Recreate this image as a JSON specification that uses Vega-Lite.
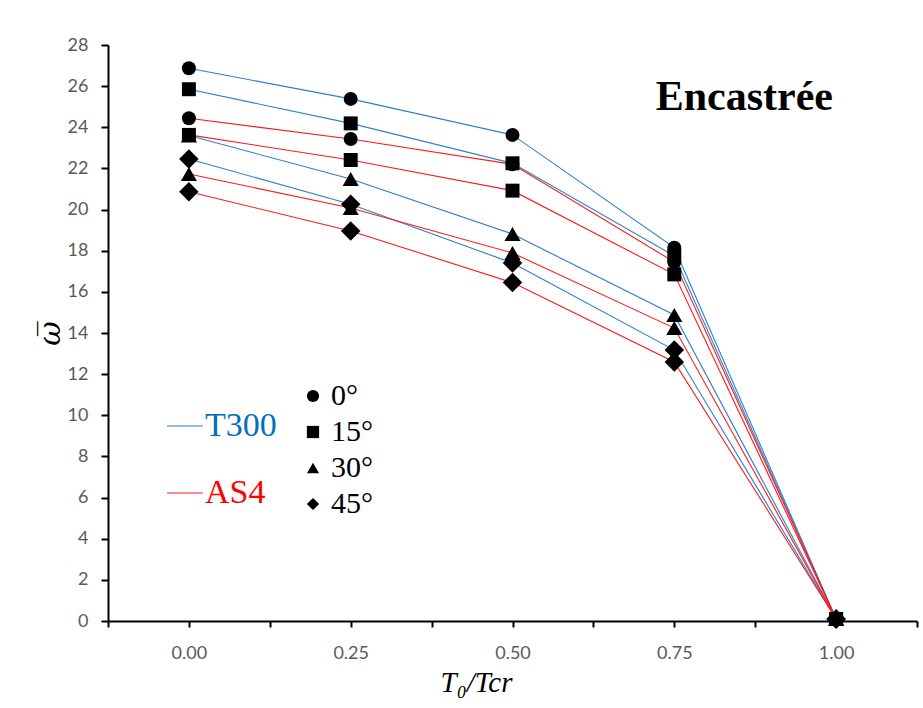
{
  "$schema": "https://vega.github.io/schema/vega-lite/v6.json",
  "width": 809,
  "height": 576,
  "autosize": {"type": "none"},
  "padding": {"left": 108, "top": 45, "right": 6, "bottom": 87},
  "background": "white",
  "config": {
    "view": {"stroke": null},
    "legend": {"labelFont": "Liberation Serif", "labelColor": "black", "padding": 0, "title": null}
  },
  "title": {"text": "Encastrée", "anchor": "end", "orient": "top", "font": "Liberation Serif", "fontSize": 42, "fontWeight": "bold", "color": "black", "offset": 0, "baseline": "alphabetic", "dy": 116, "dx": -85},
  "data": {"values": [
    {"series": "T300", "angle": "0°", "x": 0, "y": 26.87},
    {"series": "T300", "angle": "0°", "x": 0.25, "y": 25.38},
    {"series": "T300", "angle": "0°", "x": 0.5, "y": 23.63},
    {"series": "T300", "angle": "0°", "x": 0.75, "y": 18.15},
    {"series": "T300", "angle": "0°", "x": 1, "y": 0.1},
    {"series": "T300", "angle": "15°", "x": 0, "y": 25.85},
    {"series": "T300", "angle": "15°", "x": 0.25, "y": 24.19},
    {"series": "T300", "angle": "15°", "x": 0.5, "y": 22.25},
    {"series": "T300", "angle": "15°", "x": 0.75, "y": 17.75},
    {"series": "T300", "angle": "15°", "x": 1, "y": 0.1},
    {"series": "T300", "angle": "30°", "x": 0, "y": 23.6},
    {"series": "T300", "angle": "30°", "x": 0.25, "y": 21.49},
    {"series": "T300", "angle": "30°", "x": 0.5, "y": 18.81},
    {"series": "T300", "angle": "30°", "x": 0.75, "y": 14.88},
    {"series": "T300", "angle": "30°", "x": 1, "y": 0.1},
    {"series": "T300", "angle": "45°", "x": 0, "y": 22.46},
    {"series": "T300", "angle": "45°", "x": 0.25, "y": 20.26},
    {"series": "T300", "angle": "45°", "x": 0.5, "y": 17.4},
    {"series": "T300", "angle": "45°", "x": 0.75, "y": 13.17},
    {"series": "T300", "angle": "45°", "x": 1, "y": 0.1},
    {"series": "AS4", "angle": "0°", "x": 0, "y": 24.44},
    {"series": "AS4", "angle": "0°", "x": 0.25, "y": 23.43},
    {"series": "AS4", "angle": "0°", "x": 0.5, "y": 22.2},
    {"series": "AS4", "angle": "0°", "x": 0.75, "y": 17.45},
    {"series": "AS4", "angle": "0°", "x": 1, "y": 0.1},
    {"series": "AS4", "angle": "15°", "x": 0, "y": 23.63},
    {"series": "AS4", "angle": "15°", "x": 0.25, "y": 22.41},
    {"series": "AS4", "angle": "15°", "x": 0.5, "y": 20.92},
    {"series": "AS4", "angle": "15°", "x": 0.75, "y": 16.85},
    {"series": "AS4", "angle": "15°", "x": 1, "y": 0.1},
    {"series": "AS4", "angle": "30°", "x": 0, "y": 21.73},
    {"series": "AS4", "angle": "30°", "x": 0.25, "y": 20.08},
    {"series": "AS4", "angle": "30°", "x": 0.5, "y": 17.89},
    {"series": "AS4", "angle": "30°", "x": 0.75, "y": 14.24},
    {"series": "AS4", "angle": "30°", "x": 1, "y": 0.1},
    {"series": "AS4", "angle": "45°", "x": 0, "y": 20.87},
    {"series": "AS4", "angle": "45°", "x": 0.25, "y": 18.96},
    {"series": "AS4", "angle": "45°", "x": 0.5, "y": 16.45},
    {"series": "AS4", "angle": "45°", "x": 0.75, "y": 12.59},
    {"series": "AS4", "angle": "45°", "x": 1, "y": 0.1}
  ]},
  "encoding": {
    "x": {
      "field": "x", "type": "quantitative",
      "scale": {"domain": [-0.125, 1.125], "nice": false, "zero": false},
      "axis": {
        "values": [-0.125, 0, 0.125, 0.25, 0.375, 0.5, 0.625, 0.75, 0.875, 1, 1.125],
        "labelExpr": "datum.value >= 0 && datum.value <= 1 && (datum.value * 4) % 1 == 0 ? format(datum.value, '.2f') : ''",
        "grid": false, "domainColor": "black", "domainWidth": 2,
        "tickColor": "black", "tickWidth": 2, "tickSize": 6,
        "labelFont": "Lato", "labelFontSize": 18, "labelColor": "#595959",
        "labelPadding": 17, "labelFlush": false, "labelOverlap": false,
        "title": "T₀/Tcr", "titleFont": "Liberation Serif", "titleFontStyle": "italic",
        "titleFontWeight": "normal", "titleFontSize": 29, "titleColor": "black", "titlePadding": 6,
        "titleX": 368
      }
    },
    "y": {
      "field": "y", "type": "quantitative",
      "scale": {"domain": [0, 28], "nice": false},
      "axis": {
        "values": [0, 2, 4, 6, 8, 10, 12, 14, 16, 18, 20, 22, 24, 26, 28],
        "grid": false, "domainColor": "black", "domainWidth": 2,
        "tickColor": "black", "tickWidth": 2, "tickSize": 7,
        "labelFont": "Lato", "labelFontSize": 18, "labelColor": "#595959", "labelPadding": 13,
        "title": "ω̅", "titleFont": "DejaVu Serif", "titleFontStyle": "italic",
        "titleFontWeight": "normal", "titleFontSize": 30, "titleColor": "black", "titlePadding": 2
      }
    }
  },
  "layer": [
    {
      "mark": {"type": "line", "strokeWidth": 1.1},
      "encoding": {
        "color": {
          "field": "series", "type": "nominal",
          "scale": {"domain": ["T300", "AS4"], "range": ["#2A7FCF", "#FF1A1A"]},
          "legend": {
            "orient": "none", "legendX": 58, "legendY": 362, "title": null, "padding": 0,
            "symbolType": "stroke", "symbolStrokeWidth": 1.2, "symbolSize": 1300,
            "labelFont": "Liberation Serif", "labelFontSize": 34, "labelOffset": 1,
            "rowPadding": 31, "labelLimit": 300,
            "encode": {"labels": {"update": {"fill": {"signal": "datum.value === 'T300' ? '#0070C0' : '#FF0000'"}}}}
          }
        },
        "detail": {"field": "angle", "type": "nominal"}
      }
    },
    {
      "transform": [{"filter": "datum.angle === '0°' || datum.angle === '15°'"}],
      "mark": {"type": "point", "filled": true, "opacity": 1, "color": "black", "size": 195},
      "encoding": {
        "shape": {
          "field": "angle", "type": "nominal",
          "scale": {"domain": ["0°", "15°", "30°", "45°"], "range": ["circle", "square", "triangle-up", "diamond"]},
          "legend": {
            "orient": "none", "legendX": 190, "legendY": 336, "title": null, "padding": 0,
            "values": ["0°", "15°", "30°", "45°"],
            "symbolFillColor": "black", "symbolStrokeColor": "black", "symbolStrokeWidth": 0, "symbolSize": 150,
            "labelFont": "Liberation Serif", "labelFontSize": 30, "labelColor": "black",
            "labelOffset": 3, "rowPadding": 6
          }
        }
      }
    },
    {
      "transform": [{"filter": "datum.angle === '30°'"}],
      "mark": {"type": "point", "filled": true, "opacity": 1, "color": "black", "size": 260},
      "encoding": {
        "shape": {
          "field": "angle", "type": "nominal",
          "scale": {"domain": ["0°", "15°", "30°", "45°"], "range": ["circle", "square", "triangle-up", "diamond"]}
        }
      }
    },
    {
      "transform": [{"filter": "datum.angle === '45°'"}],
      "mark": {"type": "point", "filled": true, "opacity": 1, "color": "black", "size": 380},
      "encoding": {
        "shape": {
          "field": "angle", "type": "nominal",
          "scale": {"domain": ["0°", "15°", "30°", "45°"], "range": ["circle", "square", "triangle-up", "diamond"]}
        }
      }
    }
  ]
}
